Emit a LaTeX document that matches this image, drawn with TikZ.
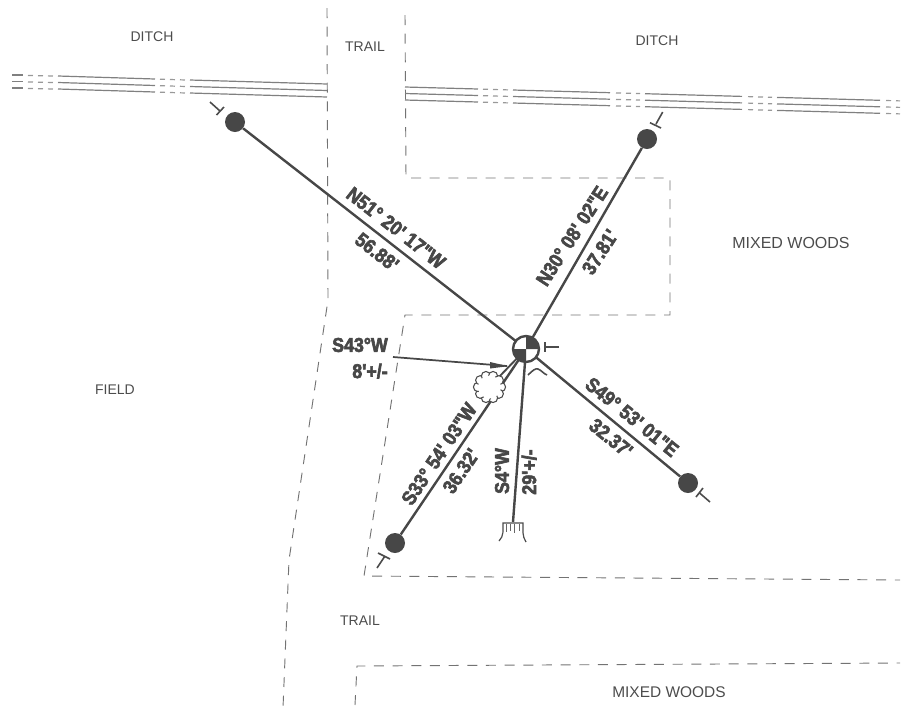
\documentclass[tikz,border=0pt]{standalone}
\usepackage{fontspec}
\setmainfont{Liberation Sans}
\newfontfamily\lblfont[BoldFeatures={FakeStretch=0.89,FakeBold=3}]{Liberation Sans}
\begin{document}
\begin{tikzpicture}[x=0.75pt,y=-0.75pt,
  bear/.style={line width=1.8pt,draw=black!72},
  bound/.style={line width=0.7pt,draw=black!55,dash pattern=on 7.5pt off 6.5pt},
  ditch/.style={line width=0.9pt,draw=black!50},
  ditchdot/.style={line width=0.9pt,draw=black!40,dash pattern=on 3.75pt off 3.75pt},
  place/.style={font=\fontsize{10.5pt}{12pt}\selectfont,text=black!70,inner sep=0pt},
  dist/.style={font=\lblfont\bfseries\fontsize{15pt}{17pt}\selectfont,text=black!72,inner sep=0pt},
  shot/.style={circle,fill=black!72,minimum size=15pt,inner sep=0pt},
  tick/.style={line width=1.2pt,draw=black!70}]
\useasboundingbox (0,0) rectangle (907,708);
% boundaries
\coordinate (a1) at (327,8); \coordinate (a2) at (328,300); \coordinate (a3) at (289,560); \coordinate (a4) at (283,708);
\draw[bound] (a1) -- (a2) -- (a3) -- (a4);
\coordinate (b1) at (405,15); \coordinate (b2) at (406,178); \coordinate (b3) at (670,178); \coordinate (b4) at (670,315); \coordinate (b5) at (405,315); \coordinate (b6) at (364,576); \coordinate (b7) at (900,580);
\draw[bound] (b1) -- (b2) -- (b3) -- (b4) -- (b5) -- (b6) -- (b7);
\coordinate (c1) at (355,705); \coordinate (c2) at (357,666); \coordinate (c3) at (900,663);
\draw[bound] (c1) -- (c2) -- (c3);
% ditches
\foreach \d in {0,6.5,13}{
  \draw[ditch] (12,75+\d) -- (23,75+\d);
  \draw[ditchdot] (28,75.4+\d) -- (53,76+\d);
  \draw[ditch] (58,76+\d) -- (155,79+\d);
  \draw[ditchdot] (160,79.2+\d) -- (186,80+\d);
  \draw[ditch] (190,80+\d) -- (327,84+\d);
  \draw[ditch] (405,87+\d) -- (478,89+\d);
  \draw[ditchdot] (483,89.2+\d) -- (508,89.9+\d);
  \draw[ditch] (513,90+\d) -- (610,92.7+\d);
  \draw[ditchdot] (616,92.9+\d) -- (640,93.6+\d);
  \draw[ditch] (645,93.7+\d) -- (742,96.4+\d);
  \draw[ditchdot] (748,96.6+\d) -- (772,97.3+\d);
  \draw[ditch] (777,97.4+\d) -- (880,100.3+\d);
  \draw[ditchdot] (886,100.5+\d) -- (900,100.9+\d);
}
% shots
\node[shot] (nw) at (235,122) {};
\node[shot] (ne) at (647,139) {};
\node[shot] (se) at (688,483) {};
\node[shot] (sw) at (395,543) {};
\coordinate (ctr) at (526,349);
\coordinate (tree) at (513,522);
\draw[bear] (nw) -- (ctr);
\draw[bear] (ne) -- (ctr);
\draw[bear] (se) -- (ctr);
\draw[bear] (sw) -- (ctr);
\draw[bear] (tree) -- (ctr);
\coordinate (cloudlink) at (497,379);
\draw[bear,line width=1.4pt] (cloudlink) -- (ctr);
% arrow
\coordinate (arrfrom) at (393,357);
\draw[line width=1.3pt,draw=black!72] (arrfrom) -- (507,366);
\fill[black!72] (508,366.2) -- (490,362) -- (490,368.5) -- cycle;
% cloud
\foreach \a in {0,36,...,324}{
  \draw[line width=0.8pt,draw=black!70,fill=white] (489.5,387) ++(\a:11.5) circle[radius=4.6];
}
\fill[white] (489.5,387) circle[radius=11.5];
% centre marker
\node[circle,draw=black!72,line width=1.8pt,fill=white,minimum size=19.5pt,inner sep=0pt] (bm) at (ctr) {};
\fill[black!72] (ctr) -- (526,336) arc[start angle=-90,end angle=0,radius=13] -- cycle;
\fill[black!72] (ctr) -- (526,362) arc[start angle=90,end angle=180,radius=13] -- cycle;
% ticks
\draw[tick] (210,102) -- (220,111) (216.5,115) -- (224,107);
\draw[tick] (662.7,112) -- (656,124) (650,122.7) -- (661,128);
\draw[tick] (710,502) -- (699,492.5) (696,497) -- (703,488);
\draw[tick] (377,568) -- (385,556) (378,553) -- (390,559);
\draw[tick] (559,347) -- (545,347) (545,342) -- (545,352);
\draw[line width=1.2pt,draw=black!70] (528,375) .. controls (533,370) and (536,368) .. (538,369) .. controls (541,370) and (544,374) .. (547,375);
% tree
\draw[line width=0.9pt,draw=black!70] (499,541) .. controls (504,536) and (503,530) .. (503,523) -- (523,523) .. controls (523,530) and (522,536) .. (526,542);
\draw[line width=0.5pt,draw=black!60] (506,524) -- (506,532) (510,524) -- (510,531) (514,524) -- (514,533) (519,524) -- (519,531);
% labels
\node[dist,rotate=-38] (l1) at (396,228) {N51° 20' 17"W};
\node[dist,rotate=-38] (l2) at (377,252) {56.88'};
\node[dist,rotate=57] (l3) at (572,236) {N30° 08' 02"E};
\node[dist,rotate=57] (l4) at (600,252) {37.81'};
\node[dist,rotate=-39] (l5) at (632,417) {S49° 53' 01"E};
\node[dist,rotate=-39] (l6) at (611,438) {32.37'};
\node[dist,rotate=56] (l7) at (439,454) {S33° 54' 03"W};
\node[dist,rotate=56] (l8) at (461,471) {36.32'};
\node[dist,rotate=90] (l9) at (502,471) {S4°W};
\node[dist,rotate=90] (l10) at (529,472) {29'+/-};
\node[dist] (l11) at (360,345) {S43°W};
\node[dist] (l12) at (370,371) {8'+/-};
\node[place] (p1) at (152,37) {DITCH};
\node[place] (p2) at (365,47) {TRAIL};
\node[place] (p3) at (657,41) {DITCH};
\node[place,font=\fontsize{12pt}{14pt}\selectfont] (p4) at (791,243) {MIXED WOODS};
\node[place] (p5) at (115,390) {FIELD};
\node[place] (p6) at (360,621) {TRAIL};
\node[place,font=\fontsize{11.6pt}{14pt}\selectfont] (p7) at (669,692) {MIXED WOODS};
\end{tikzpicture}
\end{document}
